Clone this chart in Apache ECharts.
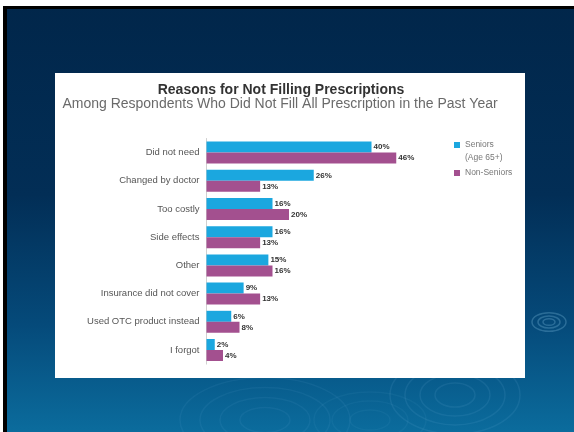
<!DOCTYPE html>
<html>
<head>
<meta charset="utf-8">
<script src="https://cdn.jsdelivr.net/npm/echarts@6/dist/echarts.min.js"></script>
<style>
html,body{margin:0;padding:0;background:#fff;}
#chart{width:574px;height:432px;}
</style>
</head>
<body>
<div id="chart"></div>
<script>
const categories = ["Did not need","Changed by doctor","Too costly","Side effects","Other","Insurance did not cover","Used OTC product instead","I forgot"];
const seniors = [40, 26, 16, 16, 15, 9, 6, 2];
const nonSeniors = [46, 13, 20, 13, 16, 13, 8, 4];
const seriesNames = ["Seniors", "Non-Seniors"];
const seniorsNote = "(Age 65+)";

const FONT = 'Liberation Sans, Arial, sans-serif';
const chart = echarts.init(document.getElementById('chart'), null, {renderer: 'canvas'});

const ripples = [];
function ripple(cx, cy, rs, ratio, op) {
  rs.forEach(r => ripples.push({
    type: 'ellipse', silent: true, z: -9,
    shape: {cx: cx, cy: cy, rx: r, ry: r * ratio},
    style: {fill: 'none', stroke: 'rgba(140,200,235,' + op + ')', lineWidth: 1.5}
  }));
}
ripple(549, 322, [6, 11, 17], 0.55, 0.28);
ripple(455, 395, [20, 35, 50, 65], 0.6, 0.1);
ripple(265, 420, [25, 45, 65, 85], 0.5, 0.07);
ripple(370, 420, [20, 38, 56], 0.5, 0.06);

const labelStyle = {show: true, position: 'right', distance: 2, formatter: '{c}%', fontSize: 8, fontWeight: 'bold', color: '#333', fontFamily: FONT};

chart.setOption({
  animation: false,
  graphic: [
    {type: 'rect', z: -10, silent: true, shape: {x: 0, y: 0, width: 574, height: 432},
     style: {fill: new echarts.graphic.LinearGradient(0, 0, 0, 1, [
       {offset: 0, color: '#01264a'}, {offset: 0.45, color: '#022e56'},
       {offset: 0.75, color: '#054a7a'}, {offset: 1, color: '#0b6c9d'}])}},
    {type: 'rect', z: -8, silent: true, shape: {x: 0, y: 0, width: 574, height: 6}, style: {fill: '#ffffff'}},
    {type: 'rect', z: -8, silent: true, shape: {x: 0, y: 0, width: 3, height: 432}, style: {fill: '#ffffff'}},
    {type: 'rect', z: -8, silent: true, shape: {x: 3, y: 6, width: 571, height: 3}, style: {fill: '#000000'}},
    {type: 'rect', z: -8, silent: true, shape: {x: 3, y: 6, width: 4, height: 426}, style: {fill: '#000000'}},
    ...ripples,
    {type: 'rect', z: -5, silent: true, shape: {x: 55, y: 73, width: 470, height: 305}, style: {fill: '#ffffff'}},
    {type: 'text', z: 5, silent: true, left: 465, top: 153,
     style: {text: seniorsNote, fontSize: 8.5, fill: '#777', fontFamily: FONT}}
  ],
  title: [
    {text: 'Reasons for Not Filling Prescriptions', left: 281, top: 83, textAlign: 'center', padding: 0,
     textStyle: {fontSize: 14, fontWeight: 'bold', color: '#333', fontFamily: FONT}},
    {text: 'Among Respondents Who Did Not Fill All Prescription in the Past Year', left: 280, top: 97, textAlign: 'center', padding: 0,
     textStyle: {fontSize: 14, fontWeight: 'normal', color: '#6a6a6a', fontFamily: FONT}}
  ],
  legend: {
    orient: 'vertical', left: 454, top: 139, itemWidth: 6, itemHeight: 6, itemGap: 16,
    icon: 'rect', padding: 0,
    data: seriesNames,
    textStyle: {fontSize: 8.5, color: '#777', lineHeight: 12, fontFamily: FONT}
  },
  grid: {left: 206.5, top: 138.5, width: 288.75, height: 225.6, containLabel: false},
  xAxis: {type: 'value', min: 0, max: 70, show: false},
  yAxis: {
    type: 'category', data: categories, inverse: true,
    axisLine: {show: true, lineStyle: {color: '#d0d0d0', width: 1}},
    axisTick: {show: false},
    axisLabel: {fontSize: 9.5, color: '#555', margin: 7, fontFamily: FONT}
  },
  series: [
    {name: seriesNames[0], type: 'bar', data: seniors, barWidth: 11, barGap: '0%', barCategoryGap: '22%',
     itemStyle: {color: '#1ba7df'}, label: labelStyle},
    {name: seriesNames[1], type: 'bar', data: nonSeniors, barWidth: 11, barGap: '0%', barCategoryGap: '22%',
     itemStyle: {color: '#a3508f'}, label: labelStyle}
  ]
});
</script>
</body>
</html>
